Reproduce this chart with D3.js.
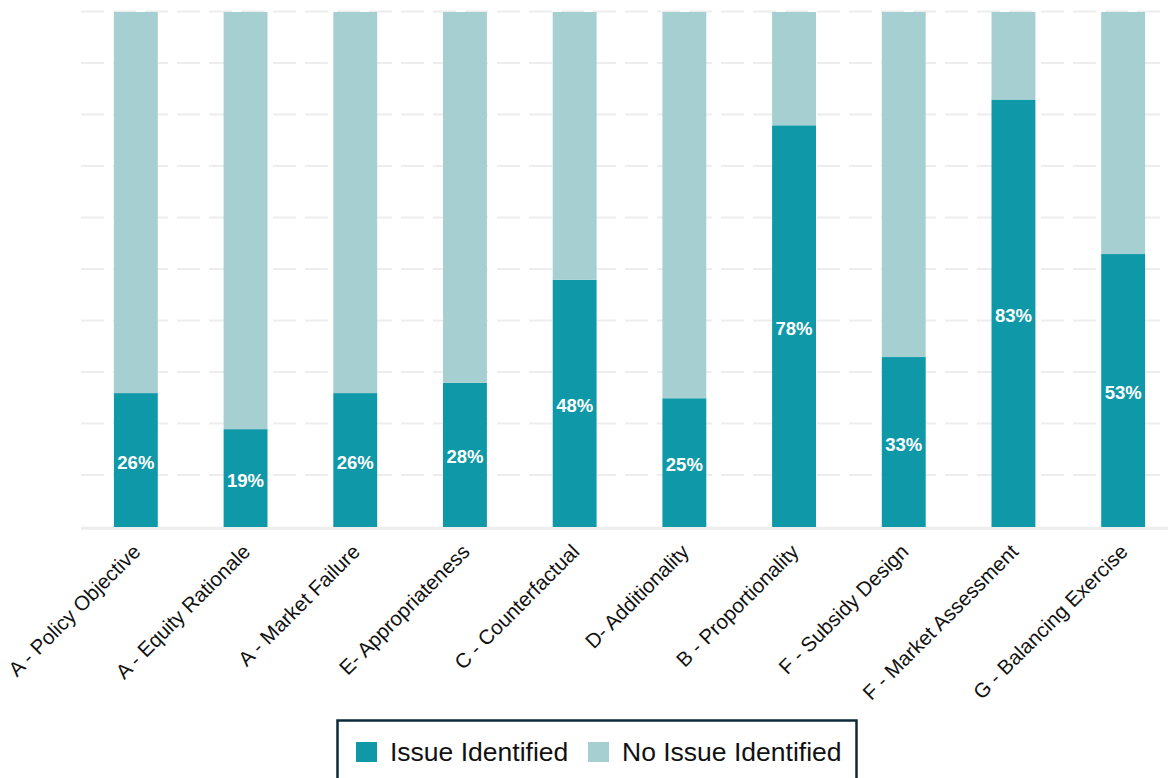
<!DOCTYPE html>
<html>
<head>
<meta charset="utf-8">
<script src="https://cdn.jsdelivr.net/npm/d3@7"></script>
<style>
  html, body { margin: 0; padding: 0; background: #fff; }
  svg { display: block; font-family: "Liberation Sans", Arial, sans-serif; }
</style>
</head>
<body>
<div id="chart"></div>
<script>
const categories = [
  "A - Policy Objective", "A - Equity Rationale", "A - Market Failure",
  "E- Appropriateness", "C - Counterfactual", "D- Additionality",
  "B - Proportionality", "F - Subsidy Design", "F - Market Assessment",
  "G - Balancing Exercise"
];
const issueIdentified = [26, 19, 26, 28, 48, 25, 78, 33, 83, 53];
const noIssueIdentified = [74, 81, 74, 72, 52, 75, 22, 67, 17, 47];
const yTicks = [0, 10, 20, 30, 40, 50, 60, 70, 80, 90, 100];
const seriesNames = ["Issue Identified", "No Issue Identified"];
const seriesColors = ["#0e98a8", "#a6cfd1"];

const W = 1168, H = 778;
const plot = { left: 81, right: 1178, top: 12, bottom: 527 };

const svg = d3.select("#chart")
  .append("svg")
  .attr("width", W)
  .attr("height", H);

const x = d3.scaleBand()
  .domain(categories)
  .range([plot.left, plot.right])
  .paddingInner(0.6)
  .paddingOuter(0.3);

const y = d3.scaleLinear()
  .domain([0, 100])
  .range([plot.bottom, plot.top]);

// dashed gridlines
svg.append("g")
  .selectAll("line")
  .data(yTicks.filter(d => d > 0))
  .enter()
  .append("line")
  .attr("x1", plot.left)
  .attr("x2", W)
  .attr("y1", d => y(d) - 0.5)
  .attr("y2", d => y(d) - 0.5)
  .attr("stroke", "#ededed")
  .attr("stroke-width", 2)
  .attr("stroke-dasharray", "23 9");

// baseline
svg.append("line")
  .attr("x1", plot.left)
  .attr("x2", W)
  .attr("y1", y(0) + 1.3)
  .attr("y2", y(0) + 1.3)
  .attr("stroke", "#ededed")
  .attr("stroke-width", 3);

const rows = categories.map((c, i) => ({
  cat: c,
  issue: issueIdentified[i],
  noIssue: noIssueIdentified[i]
}));

const stack = d3.stack().keys(["issue", "noIssue"]);
const layers = stack(rows);

svg.append("g")
  .selectAll("g")
  .data(layers)
  .enter()
  .append("g")
  .attr("fill", (d, i) => seriesColors[i])
  .selectAll("rect")
  .data(d => d)
  .enter()
  .append("rect")
  .attr("x", d => x(d.data.cat))
  .attr("width", x.bandwidth())
  .attr("y", d => y(d[1]))
  .attr("height", d => y(d[0]) - y(d[1]));

// value labels
svg.append("g")
  .selectAll("text")
  .data(rows)
  .enter()
  .append("text")
  .attr("x", d => x(d.cat) + x.bandwidth() / 2)
  .attr("y", d => (y(0) + y(d.issue)) / 2 + 2)
  .attr("dy", "0.35em")
  .attr("text-anchor", "middle")
  .attr("fill", "#fff")
  .attr("font-weight", "bold")
  .attr("font-size", "18.5px")
  .text(d => d.issue + "%");

// category labels
svg.append("g")
  .selectAll("text")
  .data(categories)
  .enter()
  .append("text")
  .attr("text-anchor", "end")
  .attr("font-size", "20.5px")
  .attr("fill", "#111")
  .attr("transform", d => `translate(${x(d) + x.bandwidth() / 2 + 6},${553}) rotate(-45)`)
  .text(d => d);

// legend
const legend = svg.append("g");
legend.append("rect")
  .attr("x", 337.5)
  .attr("y", 720.5)
  .attr("width", 519)
  .attr("height", 80)
  .attr("fill", "#fff")
  .attr("stroke", "#0d2a3a")
  .attr("stroke-width", 2.5);

const legendItems = [
  { name: seriesNames[0], color: seriesColors[0], sx: 356, tx: 390 },
  { name: seriesNames[1], color: seriesColors[1], sx: 588, tx: 622 }
];

legend.selectAll(".sw")
  .data(legendItems)
  .enter()
  .append("rect")
  .attr("x", d => d.sx)
  .attr("y", 742)
  .attr("width", 21)
  .attr("height", 20)
  .attr("fill", d => d.color);

legend.selectAll(".lt")
  .data(legendItems)
  .enter()
  .append("text")
  .attr("x", d => d.tx)
  .attr("y", 761)
  .attr("font-size", "26.5px")
  .attr("fill", "#111")
  .text(d => d.name);
</script>
</body>
</html>
